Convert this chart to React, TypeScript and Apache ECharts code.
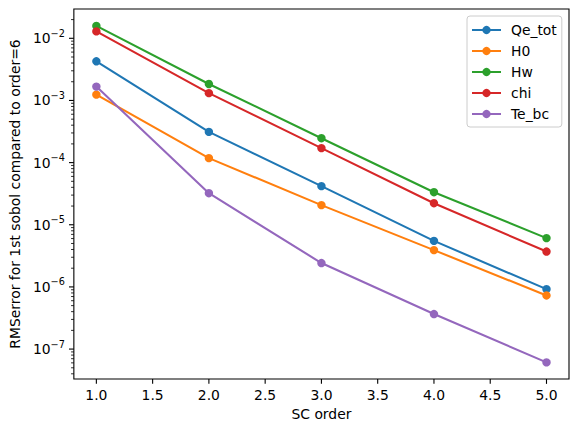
import React, { useEffect, useRef } from "react";
import * as echarts from "echarts";

const orders = [1, 2, 3, 4, 5];
const seriesNames = ["Qe_tot", "H0", "Hw", "chi", "Te_bc"];
const qeTot = [4.27e-3, 3.12e-4, 4.18e-5, 5.5e-6, 9.2e-7];
const h0 = [1.24e-3, 1.18e-4, 2.07e-5, 3.91e-6, 7.28e-7];
const hw = [1.58e-2, 1.84e-3, 2.47e-4, 3.34e-5, 6.1e-6];
const chi = [1.29e-2, 1.31e-3, 1.71e-4, 2.22e-5, 3.71e-6];
const teBc = [1.67e-3, 3.22e-5, 2.42e-6, 3.66e-7, 6.1e-8];
const colors = ["#1f77b4", "#ff7f0e", "#2ca02c", "#d62728", "#9467bd"];

const X_MIN = 0.8;
const X_MAX = 5.2;
const Y_MIN = 3.3e-8;
const Y_MAX = 0.0296;

const xMajorTicks = [1.0, 1.5, 2.0, 2.5, 3.0, 3.5, 4.0, 4.5, 5.0];
const yMajorTicks = [1e-7, 1e-6, 1e-5, 1e-4, 1e-3, 1e-2];
const decades = [-8, -7, -6, -5, -4, -3, -2];
const subs = [2, 3, 4, 5, 6, 7, 8, 9];

const FONT = "'DejaVu Sans', sans-serif";
const FS = 13.9;

export default function App() {
  const ref = useRef<HTMLDivElement>(null);
  useEffect(() => {
    if (!ref.current) return;
    const chart = echarts.init(ref.current, undefined, { renderer: "svg" });
    const allSeries = [qeTot, h0, hw, chi, teBc];

    const yMinorTicks: number[] = [];
    decades.forEach((d) =>
      subs.forEach((s) => {
        const v = s * Math.pow(10, d);
        if (v > Y_MIN && v < Y_MAX) yMinorTicks.push(v);
      })
    );

    const tickSeries = (
      data: number[][],
      dir: "x" | "y",
      len: number,
      lw: number
    ) => ({
      type: "custom",
      silent: true,
      clip: false,
      z: 5,
      data,
      renderItem: (_p: any, api: any) => {
        const pt = api.coord([api.value(0), api.value(1)]);
        const shape =
          dir === "x"
            ? { x1: pt[0], y1: pt[1], x2: pt[0], y2: pt[1] + len }
            : { x1: pt[0] - len, y1: pt[1], x2: pt[0], y2: pt[1] };
        return {
          type: "line",
          shape,
          style: { stroke: "#000", lineWidth: lw },
        };
      },
    });

    const option: any = {
      animation: false,
      textStyle: { fontFamily: FONT },
      grid: {
        left: 73,
        right: 9,
        top: 9,
        bottom: 53,
        show: true,
        borderColor: "#000",
        borderWidth: 1.1,
        backgroundColor: "transparent",
      },
      legend: {
        data: seriesNames,
        orient: "vertical",
        left: 467,
        top: 16,
        itemWidth: 29,
        itemHeight: 10.4,
        itemGap: 5,
        padding: [6, 5, 5, 4],
        backgroundColor: "rgba(255,255,255,0.8)",
        borderColor: "#cccccc",
        borderWidth: 1,
        borderRadius: 3,
        selectedMode: false,
        textStyle: {
          fontFamily: FONT,
          fontSize: FS,
          color: "#000",
          lineHeight: 16,
          padding: [0, 0, 0, 5],
        },
      },
      xAxis: {
        type: "value",
        min: X_MIN,
        max: X_MAX,
        splitNumber: 9,
        minInterval: 0.5,
        maxInterval: 0.5,
        name: "SC order",
        nameLocation: "middle",
        nameGap: 27.5,
        nameTextStyle: { fontFamily: FONT, fontSize: FS, color: "#000" },
        axisLine: { show: false },
        axisTick: { show: false },
        splitLine: { show: false },
        axisLabel: {
          margin: 8.5,
          fontFamily: FONT,
          fontSize: FS,
          color: "#000",
          formatter: (v: number) =>
            xMajorTicks.some((t) => Math.abs(t - v) < 1e-9) ? v.toFixed(1) : "",
        },
      },
      yAxis: {
        type: "log",
        logBase: 10,
        min: Y_MIN,
        max: Y_MAX,
        name: "RMSerror for 1st sobol compared to order=6",
        nameLocation: "middle",
        nameGap: 49,
        nameTextStyle: { fontFamily: FONT, fontSize: FS, color: "#000" },
        axisLine: { show: false },
        axisTick: { show: false },
        splitLine: { show: false },
        minorTick: { show: false },
        axisLabel: {
          margin: 9,
          fontFamily: FONT,
          color: "#000",
          formatter: (v: number) => {
            const e = Math.round(Math.log10(v));
            if (Math.abs(Math.log10(v) - e) > 1e-6) return "";
            const s = e < 0 ? "\u2212" + String(-e) : String(e);
            return "{b|10}{s|" + s + "}";
          },
          rich: {
            b: { fontFamily: FONT, fontSize: FS, lineHeight: 20, color: "#000" },
            s: {
              fontFamily: FONT,
              fontSize: 9.7,
              lineHeight: 10,
              verticalAlign: "top",
              color: "#000",
            },
          },
        },
      },
      series: [
        ...allSeries.map((vals, i) => ({
          name: seriesNames[i],
          type: "line",
          data: orders.map((o, j) => [o, vals[j]]),
          symbol: "circle",
          symbolSize: 8.4,
          showSymbol: true,
          color: colors[i],
          itemStyle: { color: colors[i] },
          lineStyle: { color: colors[i], width: 2.08 },
          emphasis: { disabled: true },
          z: 2,
        })),
        tickSeries(xMajorTicks.map((v) => [v, Y_MIN]), "x", 4.86, 1.1),
        tickSeries(yMajorTicks.map((v) => [X_MIN, v]), "y", 4.86, 1.1),
        tickSeries(yMinorTicks.map((v) => [X_MIN, v]), "y", 2.78, 0.83),
      ],
    };
    chart.setOption(option);
    return () => chart.dispose();
  }, []);
  return (
    <div
      ref={ref}
      style={{ position: "fixed", left: 0, top: 0, width: 578, height: 432, background: "#fff" }}
    />
  );
}
